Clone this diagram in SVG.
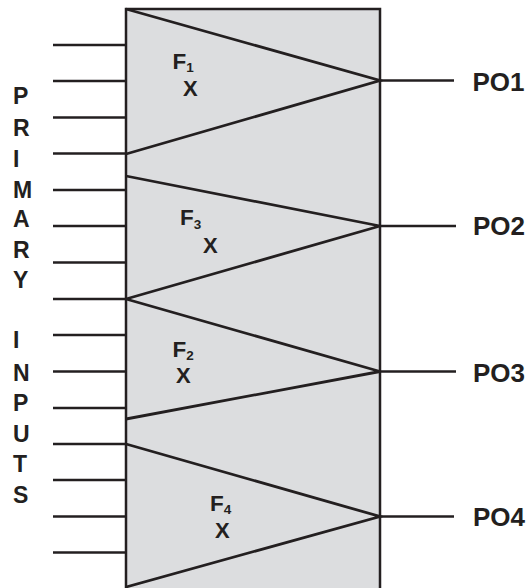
<svg xmlns="http://www.w3.org/2000/svg" width="527" height="588" viewBox="0 0 527 588">
  <style>
    .box { fill: #dcdddf; stroke: #231f20; stroke-width: 2.5; }
    .wire { stroke: #231f20; stroke-width: 2.5; fill: none; }
    .cone { stroke: #231f20; stroke-width: 2.8; fill: none; stroke-linejoin: miter; }
    .lbl { font-family: "Liberation Sans", Arial, Helvetica, sans-serif; font-weight: bold; fill: #231f20; }
    .side { font-size: 23px; }
    .po { font-size: 26px; }
    .fn { font-size: 22.5px; }
    .sub { font-size: 13.5px; }
    .x { font-size: 22px; }
  </style>

  <!-- circuit block -->
  <g id="block">
    <rect class="box" x="126" y="9" width="254" height="582"/>
  </g>

  <!-- output cones, one per primary output -->
  <g id="F1">
    <polyline class="cone" points="126,9 380,80.5 126,154"/>
    <text class="lbl fn" x="172.5" y="69">F<tspan class="sub" dy="2.7">1</tspan></text>
    <text class="lbl x" x="183" y="95.7">X</text>
  </g>
  <g id="F3">
    <polyline class="cone" points="126,176 380,226 126,299"/>
    <text class="lbl fn" x="180" y="225">F<tspan class="sub" dy="4">3</tspan></text>
    <text class="lbl x" x="203" y="253.3">X</text>
  </g>
  <g id="F2">
    <polyline class="cone" points="126,299 380,371.5 126,419"/>
    <text class="lbl fn" x="172.5" y="356.5">F<tspan class="sub" dy="3.5">2</tspan></text>
    <text class="lbl x" x="176" y="383">X</text>
  </g>
  <g id="F4">
    <polyline class="cone" points="126,444 380,516.5 126,587"/>
    <text class="lbl fn" x="210" y="510.7">F<tspan class="sub" dy="3.3">4</tspan></text>
    <text class="lbl x" x="215" y="538.3">X</text>
  </g>

  <!-- input and output wires -->
  <g id="connectors">
    <line class="wire" x1="53" y1="45" x2="126" y2="45"/>
    <line class="wire" x1="53" y1="81" x2="126" y2="81"/>
    <line class="wire" x1="53" y1="117.5" x2="126" y2="117.5"/>
    <line class="wire" x1="53" y1="153.5" x2="126" y2="153.5"/>
    <line class="wire" x1="53" y1="190" x2="126" y2="190"/>
    <line class="wire" x1="53" y1="226" x2="126" y2="226"/>
    <line class="wire" x1="53" y1="262.5" x2="126" y2="262.5"/>
    <line class="wire" x1="53" y1="299" x2="126" y2="299"/>
    <line class="wire" x1="53" y1="335" x2="126" y2="335"/>
    <line class="wire" x1="53" y1="371.5" x2="126" y2="371.5"/>
    <line class="wire" x1="53" y1="408" x2="126" y2="408"/>
    <line class="wire" x1="53" y1="444" x2="126" y2="444"/>
    <line class="wire" x1="53" y1="480" x2="126" y2="480"/>
    <line class="wire" x1="53" y1="516.5" x2="126" y2="516.5"/>
    <line class="wire" x1="53" y1="552.5" x2="126" y2="552.5"/>

    <line class="wire" x1="380" y1="80.5" x2="454" y2="80.5"/>
    <line class="wire" x1="380" y1="226" x2="456" y2="226"/>
    <line class="wire" x1="380" y1="371.5" x2="456" y2="371.5"/>
    <line class="wire" x1="380" y1="516.5" x2="454" y2="516.5"/>
  </g>

  <!-- primary output names -->
  <g id="outputs">
    <text class="lbl po" x="472.5" y="90.7">PO1</text>
    <text class="lbl po" x="473" y="235">PO2</text>
    <text class="lbl po" x="473" y="381.5">PO3</text>
    <text class="lbl po" x="473" y="526">PO4</text>
  </g>

  <!-- vertical caption for the inputs -->
  <g id="inputs-caption">
    <text class="lbl side" x="13" y="103.5">P</text>
    <text class="lbl side" x="13" y="136">R</text>
    <text class="lbl side" x="13" y="166.5">I</text>
    <text class="lbl side" x="13" y="197.5">M</text>
    <text class="lbl side" x="13" y="226.5">A</text>
    <text class="lbl side" x="13" y="257.5">R</text>
    <text class="lbl side" x="13" y="288">Y</text>
    <text class="lbl side" x="13" y="348">I</text>
    <text class="lbl side" x="13" y="380.5">N</text>
    <text class="lbl side" x="13" y="410.5">P</text>
    <text class="lbl side" x="13" y="441.5">U</text>
    <text class="lbl side" x="13" y="471.5">T</text>
    <text class="lbl side" x="13" y="502.5">S</text>
  </g>
</svg>
